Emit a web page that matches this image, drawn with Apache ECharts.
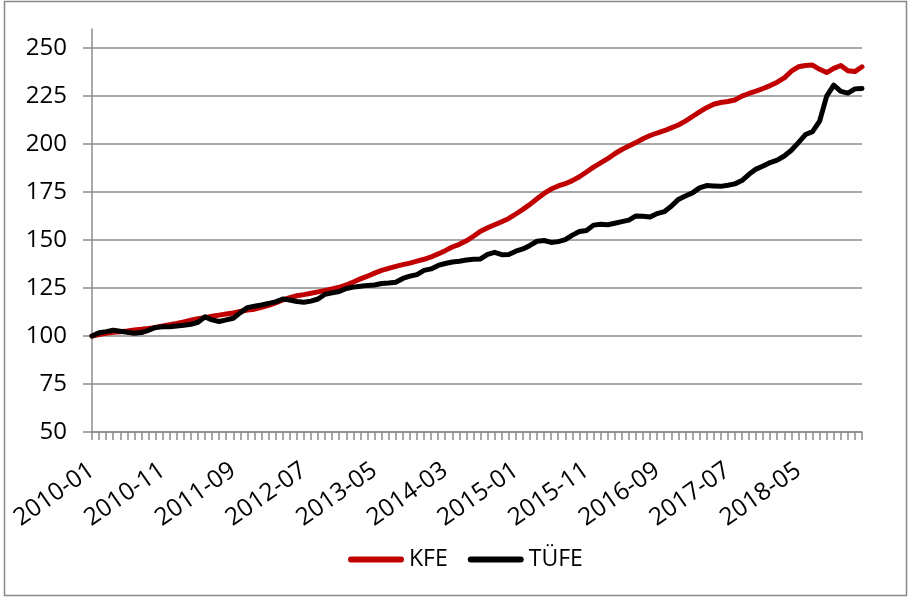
<!DOCTYPE html>
<html>
<head>
<meta charset="utf-8">
<script src="https://cdn.jsdelivr.net/npm/echarts@6/dist/echarts.min.js"></script>
<style>
  html, body { margin: 0; padding: 0; background: #fff; }
  #chart { width: 909px; height: 598px; }
</style>
</head>
<body>
<div id="chart"></div>
<script>
// aylar: 2010-01 .. 2019-02
const months = []
for (let y = 2010; y <= 2019; y++) {
  for (let m = 1; m <= 12; m++) {
    if (y === 2019 && m > 2) break
    months.push(y + '-' + String(m).padStart(2, '0'))
  }
}

// KFE (konut fiyat endeksi)
const kfe = [
  100, 100.8, 101.5, 102, 102.3, 102.6, 103.1, 103.5, 104, 104.5,
  105.2, 105.9, 106.6, 107.4, 108.2, 109, 109.6, 110.3, 110.9, 111.5,
  112, 112.8, 113.5, 114, 115, 116, 117.3, 118.8, 120, 121,
  121.6, 122.3, 123, 123.8, 124.6, 125.4, 126.6, 128.2, 129.8, 131.2,
  132.8, 134.2, 135.3, 136.3, 137.2, 138, 139, 140, 141.2, 142.8,
  144.5, 146.4, 147.8, 149.6, 152, 154.6, 156.4, 158, 159.6, 161.3,
  163.6, 166, 168.6, 171.5, 174.3, 176.6, 178.2, 179.4, 181, 183,
  185.5, 188, 190.2, 192.4, 195, 197.2, 199, 200.8, 202.8, 204.5,
  205.8, 207, 208.5, 210, 212, 214.4, 216.8, 219, 220.8, 221.7,
  222.2, 223, 225, 226.4, 227.6, 229, 230.5, 232.3, 234.5, 238,
  240.3, 241, 241.2, 239, 237.3, 239.5, 241, 238.2, 237.8, 240.3
]

// TÜFE
const tufe = [
  100, 101.7, 102.3, 103, 102.5, 102, 101.5, 101.8, 103, 104.5,
  104.8, 104.8, 105.2, 105.6, 106.1, 107.2, 110, 108.4, 107.6, 108.4,
  109.3, 112.2, 114.8, 115.5, 116.2, 117, 117.8, 119.3, 118.8, 118,
  117.6, 118.2, 119.3, 121.8, 122.5, 123.2, 124.8, 125.5, 126, 126.4,
  126.6, 127.4, 127.6, 128, 130, 131.2, 132, 134.2, 135, 136.8,
  137.8, 138.6, 139, 139.6, 140, 140.2, 142.6, 143.6, 142.4, 142.5,
  144.2, 145.4, 147.2, 149.4, 149.8, 148.8, 149.2, 150.2, 152.6, 154.5,
  155, 157.8, 158.2, 158, 158.8, 159.6, 160.4, 162.6, 162.4, 162,
  163.8, 164.8, 167.6, 171.2, 173, 174.6, 177.2, 178.4, 178.2, 178,
  178.6, 179.3, 181, 184.3, 187, 188.6, 190.4, 191.7, 193.8, 196.8,
  200.8, 205, 206.5, 212, 225, 230.8, 227.5, 226.6, 228.8, 229
]

const yTicks = [50, 75, 100, 125, 150, 175, 200, 225, 250]

const FONT = '"Open Sans", "Noto Sans", sans-serif'
const GRAY = '#8c8c8c'

const chart = echarts.init(document.getElementById('chart'), null, { renderer: 'canvas' })
chart.setOption({
  animation: false,
  backgroundColor: '#fff',
  textStyle: { fontFamily: FONT },
  graphic: [{
    type: 'rect',
    shape: { x: 4.5, y: 1.5, width: 902, height: 594 },
    style: { fill: null, stroke: '#888', lineWidth: 1.5 },
    silent: true
  }],
  grid: { left: 92, right: 47, top: 29, bottom: 166 },
  legend: {
    bottom: 22,
    left: 343,
    itemWidth: 56,
    itemHeight: 6,
    itemGap: 20,
    icon: 'path://M3,0 H53 A3,3 0 0 1 53,6 H3 A3,3 0 0 1 3,0 Z',
    textStyle: { fontFamily: FONT, fontSize: 23, color: '#000' },
    data: ['KFE', 'TÜFE']
  },
  xAxis: {
    type: 'category',
    data: months,
    boundaryGap: false,
    axisLine: { lineStyle: { color: GRAY, width: 1.5 } },
    axisTick: { show: true, interval: 0, length: 8, lineStyle: { color: GRAY, width: 1.5 } },
    axisLabel: {
      interval: 9,
      rotate: 35,
      margin: 36,
      fontFamily: FONT,
      fontSize: 24.5,
      color: '#000'
    },
    splitLine: { show: false }
  },
  yAxis: {
    type: 'value',
    min: 50,
    max: 260,
    interval: 25,
    axisLine: { show: true, lineStyle: { color: GRAY, width: 1.5 } },
    axisTick: { show: true, length: 9, customValues: yTicks, lineStyle: { color: GRAY, width: 1.5 } },
    axisLabel: {
      margin: 25,
      customValues: yTicks,
      fontFamily: FONT,
      fontSize: 24,
      color: '#000'
    },
    splitLine: { show: true, lineStyle: { color: GRAY, width: 1.5 } }
  },
  series: [
    {
      name: 'KFE',
      type: 'line',
      data: kfe,
      showSymbol: false,
      symbol: 'none',
      color: '#c00000',
      lineStyle: { color: '#c00000', width: 5, cap: 'round', join: 'round' }
    },
    {
      name: 'TÜFE',
      type: 'line',
      data: tufe,
      showSymbol: false,
      symbol: 'none',
      color: '#000000',
      lineStyle: { color: '#000000', width: 5, cap: 'round', join: 'round' }
    }
  ]
})
</script>
</body>
</html>
